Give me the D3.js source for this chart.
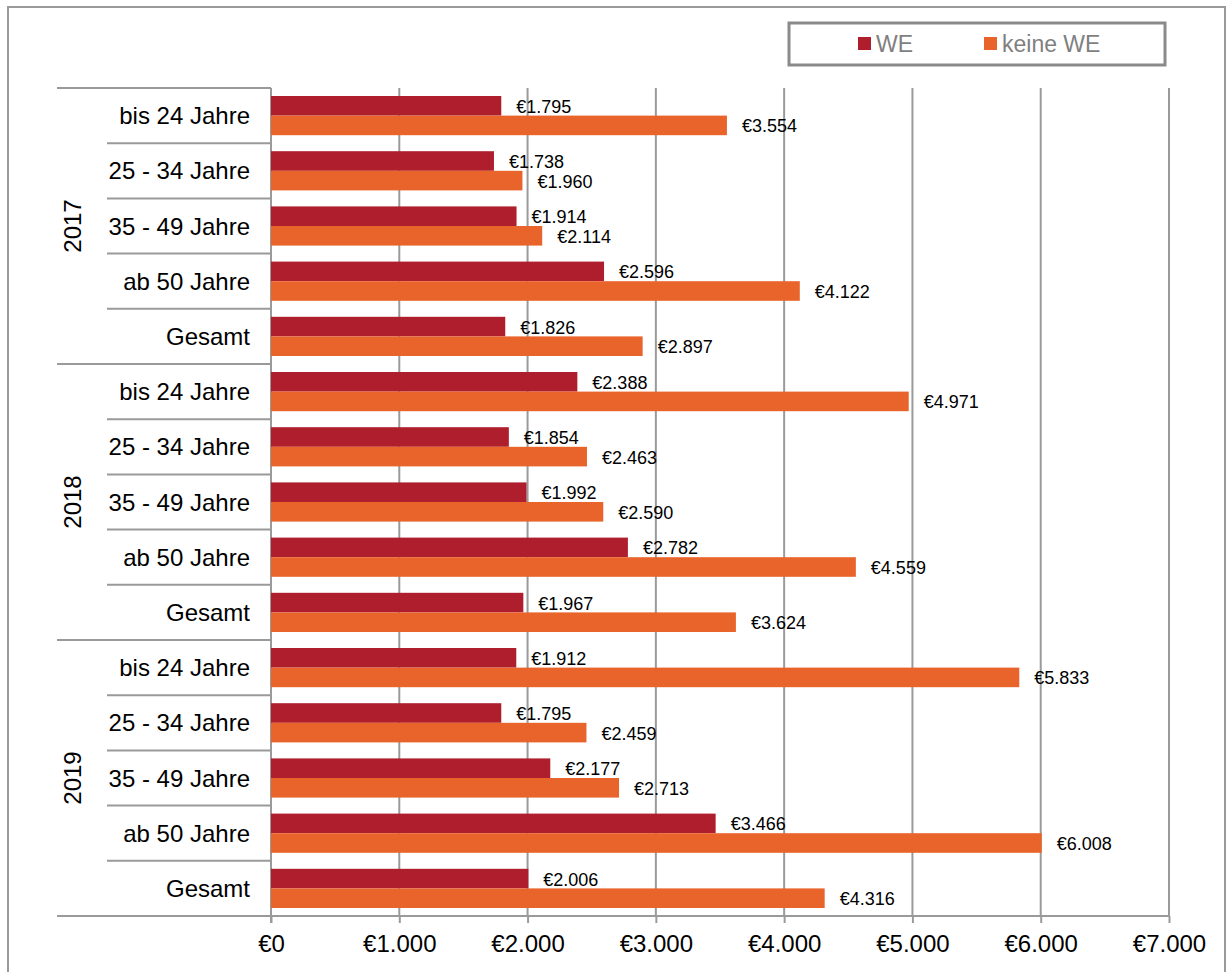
<!DOCTYPE html>
<html>
<head>
<meta charset="utf-8">
<script src="https://cdn.jsdelivr.net/npm/d3@7"></script>
<style>
  body { margin: 0; background: #fff; }
  text { font-family: "Liberation Sans", Arial, sans-serif; }
</style>
</head>
<body>
<div id="chart"></div>
<script>
//* data
var years = ["2017", "2018", "2019"]
var ageGroups = ["bis 24 Jahre", "25 - 34 Jahre", "35 - 49 Jahre", "ab 50 Jahre", "Gesamt"]
var seriesNames = ["WE", "keine WE"]
var valuesWE = [1795, 1738, 1914, 2596, 1826,  2388, 1854, 1992, 2782, 1967,  1912, 1795, 2177, 3466, 2006]
var valuesKeineWE = [3554, 1960, 2114, 4122, 2897,  4971, 2463, 2590, 4559, 3624,  5833, 2459, 2713, 6008, 4316]
var xTicks = [0, 1000, 2000, 3000, 4000, 5000, 6000, 7000]

var colors = d3.scaleOrdinal().domain(seriesNames).range(["#AF1E2D", "#E9642B"])
var grey = "#9a9a9a"

var W = 1227, H = 972
var plot = {left: 271, right: 1169, top: 88, bottom: 916}

var rows = []
years.forEach((y, i) => {
    ageGroups.forEach((a, j) => {
        var k = i * ageGroups.length + j
        rows.push({key: k, year: y, age: a, vals: [valuesWE[k], valuesKeineWE[k]]})
    })
})

var svg = d3.select("#chart").append("svg").attr("width", W).attr("height", H)

// outer frame
svg.append("rect").attr("x", 8).attr("y", 7).attr("width", 1217).attr("height", 990)
    .attr("fill", "none").attr("stroke", grey).attr("stroke-width", 2)

var x = d3.scaleLinear().domain([0, 7000]).range([plot.left, plot.right])
var y0 = d3.scaleBand().domain(rows.map(d => d.key)).range([plot.top, plot.bottom])
    .paddingInner(0.29).paddingOuter(0.145)
var y1 = d3.scaleBand().domain(seriesNames).range([0, y0.bandwidth()])

// gridlines
svg.append("g").selectAll("line").data(xTicks.slice(1)).join("line")
    .attr("x1", d => x(d)).attr("x2", d => x(d))
    .attr("y1", plot.top).attr("y2", plot.bottom)
    .attr("stroke", grey).attr("stroke-width", 2)

// x axis
var xAxis = d3.axisBottom(x).tickValues(xTicks).tickSize(7).tickPadding(12)
    .tickFormat(d => "€" + d3.format(",")(d).replace(/,/g, "."))
var gx = svg.append("g").attr("transform", "translate(0," + plot.bottom + ")").call(xAxis)
gx.select(".domain").remove()
gx.selectAll(".tick line").attr("stroke", grey).attr("stroke-width", 2)
gx.selectAll(".tick text").attr("fill", "#000").style("font-size", "24px")
    .style("font-family", "'Liberation Sans', Arial, sans-serif")

// bottom line + vertical axis
svg.append("line").attr("x1", 57).attr("x2", plot.right).attr("y1", plot.bottom).attr("y2", plot.bottom)
    .attr("stroke", grey).attr("stroke-width", 2)
svg.append("line").attr("x1", plot.left).attr("x2", plot.left).attr("y1", plot.top).attr("y2", plot.bottom + 7)
    .attr("stroke", grey).attr("stroke-width", 2)

// category separators
var step = y0.step()
svg.append("g").selectAll("line").data(d3.range(rows.length)).join("line")
    .attr("x1", d => d % ageGroups.length == 0 ? 57 : 107)
    .attr("x2", plot.left)
    .attr("y1", d => plot.top + d * step).attr("y2", d => plot.top + d * step)
    .attr("stroke", grey).attr("stroke-width", 2)

// category labels
svg.append("g").selectAll("text").data(rows).join("text")
    .attr("x", 250).attr("y", d => y0(d.key) + y0.bandwidth() / 2)
    .attr("text-anchor", "end").attr("dominant-baseline", "central")
    .style("font-size", "24px").text(d => d.age)

// year labels
svg.append("g").selectAll("text").data(years).join("text")
    .attr("transform", (d, i) => "translate(81," + (plot.top + (i + 0.5) * ageGroups.length * step) + ") rotate(-90)")
    .attr("text-anchor", "middle")
    .style("font-size", "24px").text(d => d)

// bars
var groups = svg.append("g").selectAll("g").data(rows).join("g")
    .attr("transform", d => "translate(0," + y0(d.key) + ")")
var bars = groups.selectAll("g").data(d => d.vals.map((v, i) => ({s: seriesNames[i], v: v}))).join("g")
bars.append("rect")
    .attr("x", plot.left).attr("y", d => y1(d.s))
    .attr("width", d => x(d.v) - plot.left).attr("height", y1.bandwidth())
    .attr("fill", d => colors(d.s))
bars.append("text")
    .attr("x", d => x(d.v) + 15).attr("y", d => y1(d.s) + y1.bandwidth() / 2 + 1)
    .attr("dominant-baseline", "central")
    .style("font-size", "18px")
    .text(d => "€" + d3.format(",")(d.v).replace(/,/g, "."))

// legend
var leg = svg.append("g")
leg.append("rect").attr("x", 789).attr("y", 23).attr("width", 376).attr("height", 42)
    .attr("fill", "#fff").attr("stroke", "#8a8a8a").attr("stroke-width", 3)
var legX = [858, 984]
seriesNames.forEach((s, i) => {
    leg.append("rect").attr("x", legX[i]).attr("y", 37).attr("width", 13).attr("height", 13).attr("fill", colors(s))
    leg.append("text").attr("x", legX[i] + 18).attr("y", 44).attr("dominant-baseline", "central")
        .attr("fill", "#7f7f7f").style("font-size", "23px").text(s)
})
</script>
</body>
</html>
